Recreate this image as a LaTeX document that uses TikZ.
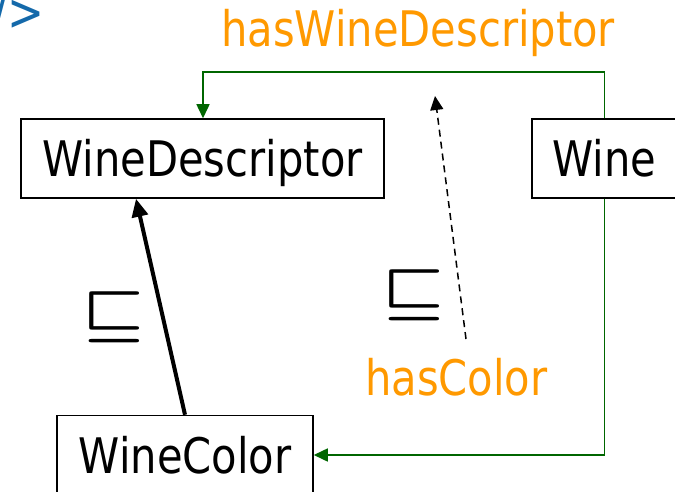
\documentclass[tikz,border=0pt]{standalone}
\usepackage{fontspec}
\setmainfont{DejaVu Sans}[FakeStretch=0.85]
\usetikzlibrary{arrows.meta}
\definecolor{owlorange}{RGB}{255,153,0}
\definecolor{owlgreen}{RGB}{0,102,0}
\definecolor{owlblue}{RGB}{20,105,170}
\newcommand{\subsymbol}{\scalebox{6.9}[5.7]{\boldmath$\sqsubseteq$}}
\tikzset{
  classbox/.style={draw=black, line width=1.5pt, inner sep=0pt, font=\fontsize{49}{52}\selectfont, text height=36pt, text depth=0pt},
  proplabel/.style={inner sep=0pt, text=owlorange, font=\fontsize{49}{52}\selectfont},
  subsym/.style={inner sep=0pt},
  propedge/.style={draw=owlgreen, line width=1.5pt, -{Triangle[length=14pt,width=13pt]}},
  subedge/.style={draw=black, line width=4pt, -{Triangle[length=18pt,width=16pt]}},
  domedge/.style={draw=black, line width=1.5pt, dash pattern=on 7pt off 5pt, -{Triangle[length=14pt,width=13pt]}}
}
\begin{document}
\begin{tikzpicture}[x=1pt,y=-1pt]
\useasboundingbox (0,0) rectangle (675,492);
\begin{scope}
\clip (0,0) rectangle (675,492);
% partial text at the top left corner
\node[anchor=base east, inner sep=0pt, text=owlblue, font=\fontsize{52}{56}\selectfont] (code) at (45,31) {/>};
% classes
\node[classbox, minimum width=363pt, minimum height=79pt] (WD) at (202.5,158.5) {WineDescriptor};
\node[classbox, minimum width=145pt, minimum height=79pt] (Wine) at (604.5,158.5) {Wine};
\node[classbox, minimum width=256pt, minimum height=79pt] (WC) at (185,455) {WineColor};
% property labels
\node[proplabel, anchor=base west] (hwd) at (221,47) {hasWineDescriptor};
\node[proplabel, anchor=base west] (hc) at (365,395) {hasColor};
% subclass symbols
\node[subsym] (s1) at (113,317) {\subsymbol};
\node[subsym] (s2) at (413,295) {\subsymbol};
% connectors
\coordinate (ta) at (203,72);
\draw[propedge] (Wine.north) |- (ta) -- (ta |- WD.north);
\draw[propedge] (Wine.south) |- (WC.east);
\draw[subedge] (WC.north) -- (WD.south -| 136,0);
\coordinate (d1) at (466,339);
\coordinate (d2) at (435,96);
\draw[domedge] (d1) -- (d2);
\end{scope}
\end{tikzpicture}
\end{document}
